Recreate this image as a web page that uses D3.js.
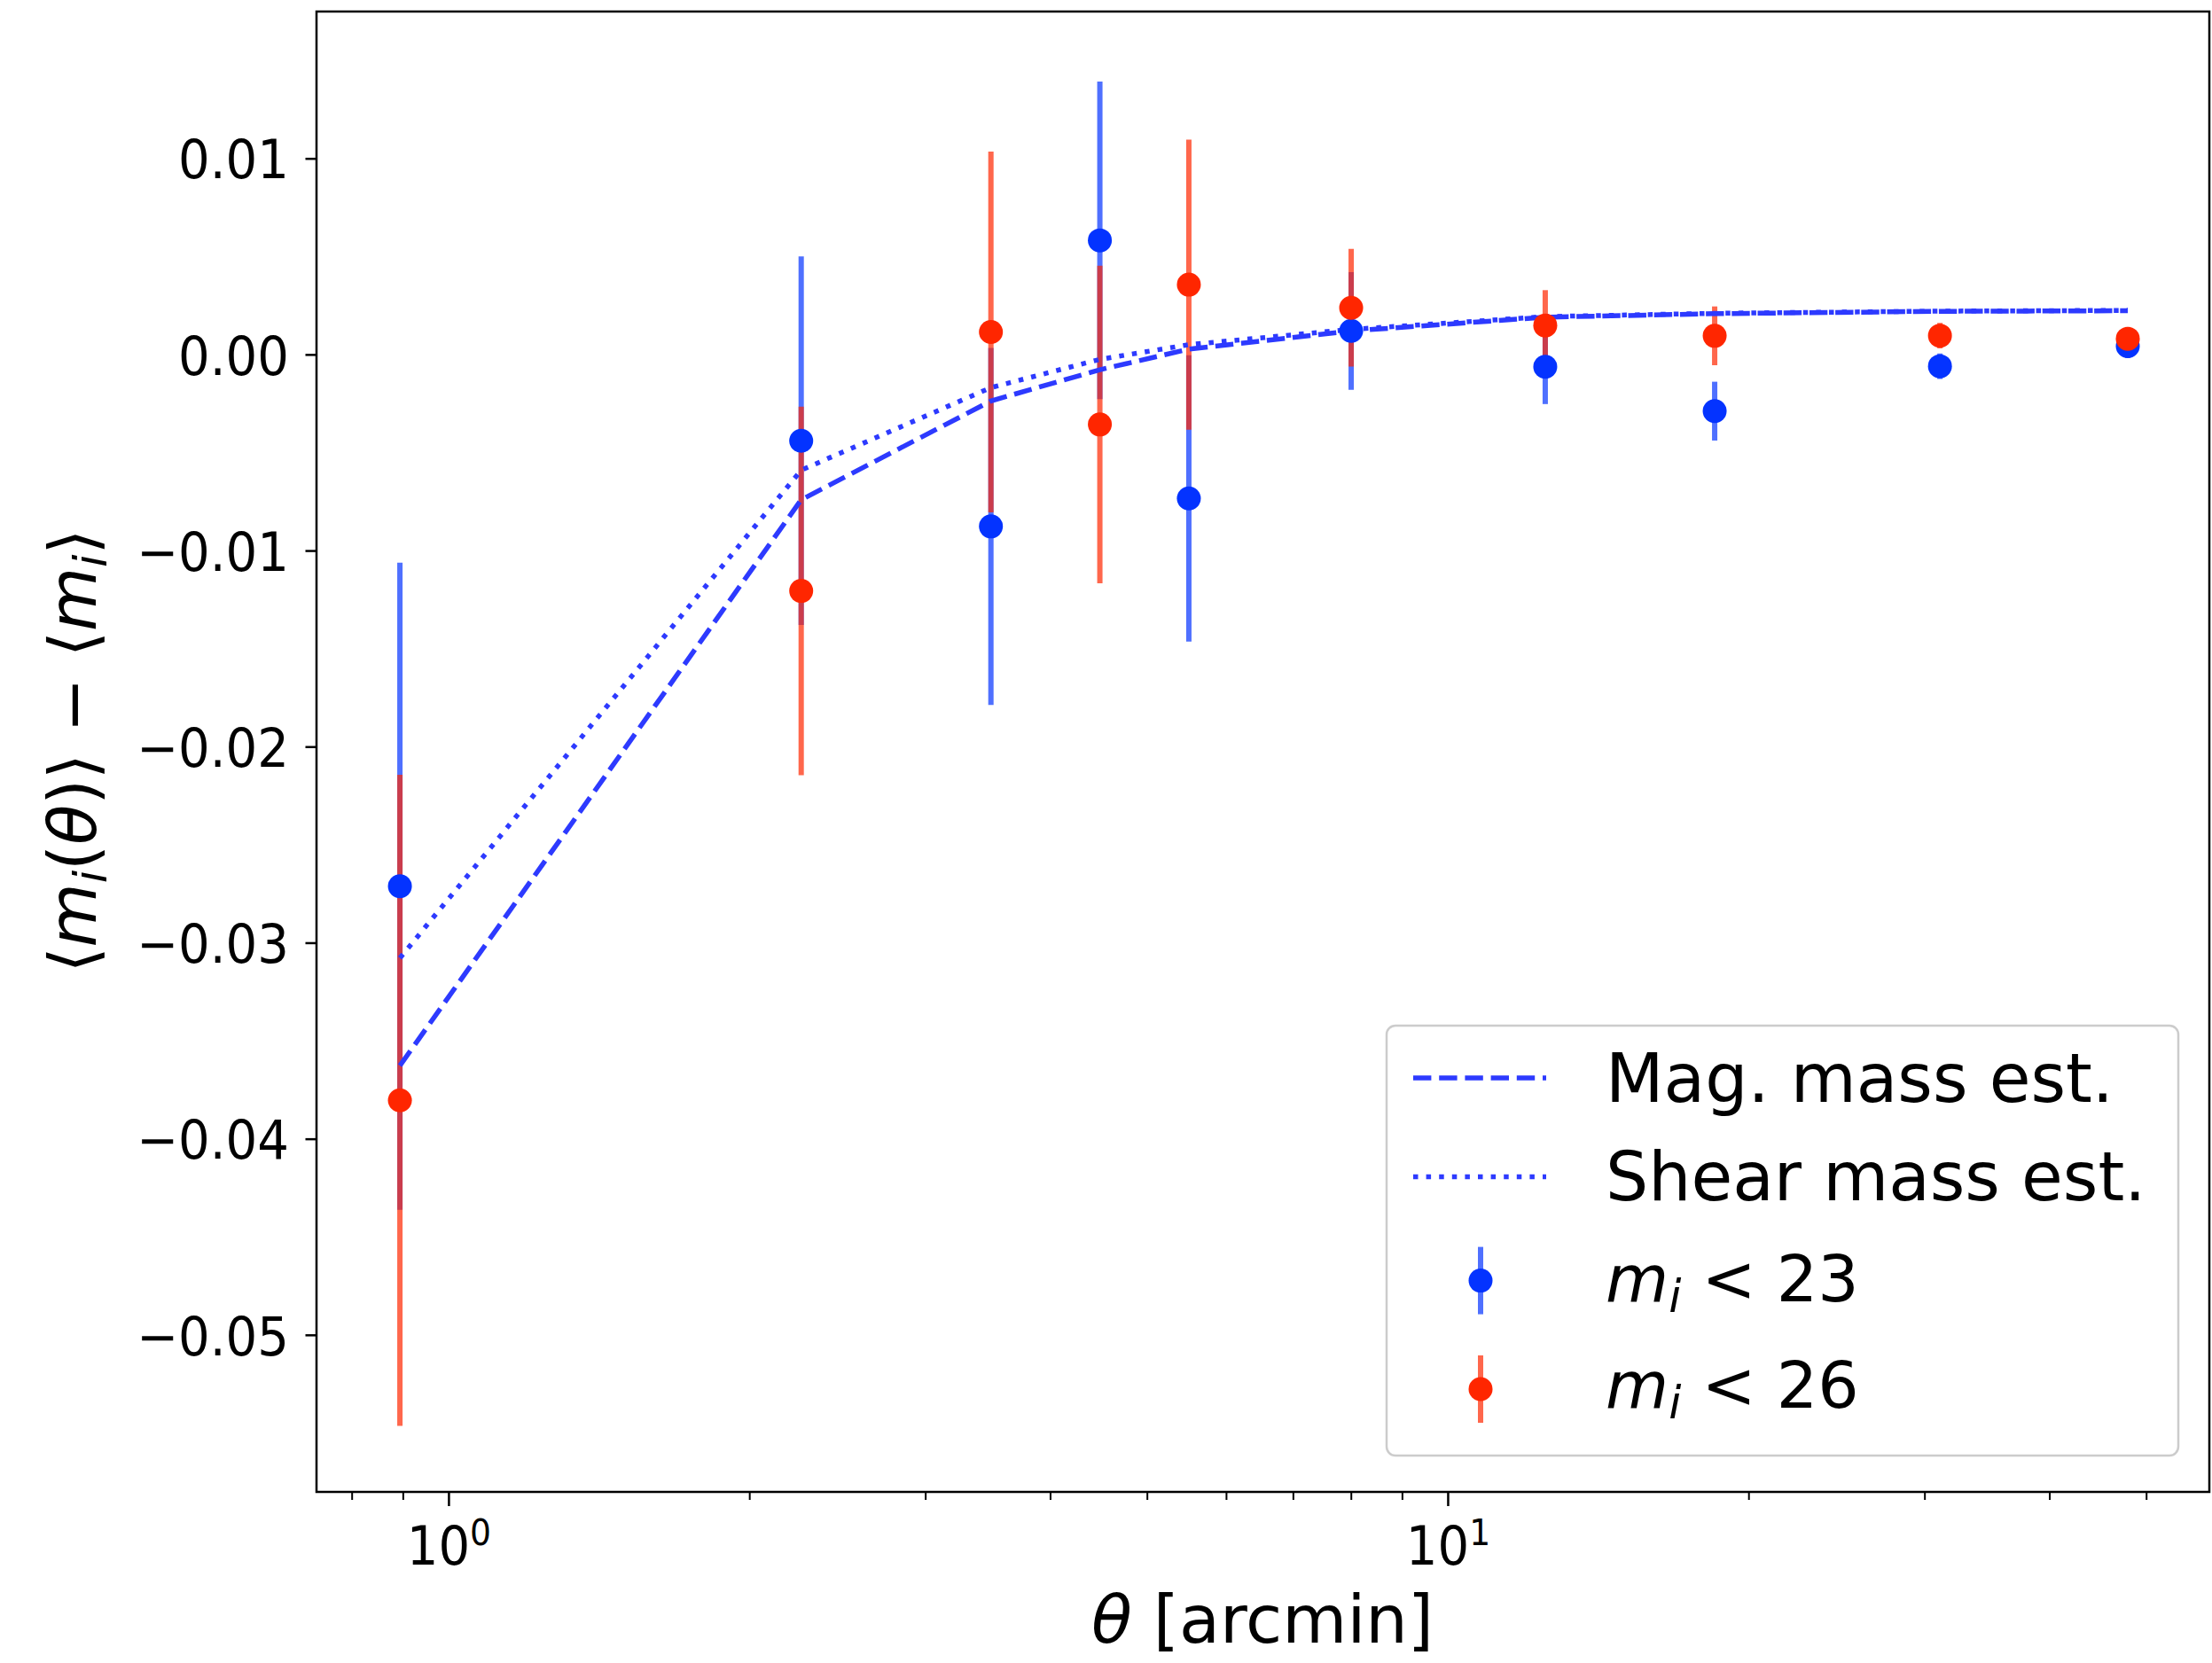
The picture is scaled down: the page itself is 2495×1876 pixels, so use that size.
<!DOCTYPE html>
<html><head><meta charset="utf-8">
<script src="https://cdn.jsdelivr.net/npm/d3@7"></script>
<style>
body{margin:0;background:#fff;}
svg{display:block;}
text{font-family:"DejaVu Sans",sans-serif;fill:#000;}
</style>
</head><body><div id="chart"></div>
<script>
// ---------- data ----------
const theta      = [0.894, 2.254, 3.49, 4.486, 5.507, 8.005, 12.52, 18.50, 31.09, 47.93];
const blueVals   = [-0.02712, -0.0044, -0.00877, 0.00582, -0.00734, 0.0012, -0.00063, -0.00289, -0.0006, 0.00042];
const blueErr    = [0.0165, 0.0094, 0.0091, 0.0081, 0.0073, 0.0030, 0.0019, 0.0015, 0.00065, 0.0006];
const redVals    = [-0.03804, -0.01206, 0.00115, -0.00357, 0.00356, 0.00238, 0.00148, 0.00095, 0.00096, 0.0008];
const redErr     = [0.0166, 0.0094, 0.0092, 0.0081, 0.0074, 0.0030, 0.0018, 0.0015, 0.00065, 0.0006];
const magEst     = [-0.03627, -0.00741, -0.00237, -0.00078, 0.00027, 0.0012, 0.0019, 0.00208, 0.0022, 0.00223];
const shearEst   = [-0.03078, -0.0059, -0.00169, -0.00025, 0.0005, 0.00128, 0.00193, 0.0021, 0.00221, 0.00225];
const yTicks      = [0.01, 0.00, -0.01, -0.02, -0.03, -0.04, -0.05];
const yTickLabels = ["0.01", "0.00", "\u22120.01", "\u22120.02", "\u22120.03", "\u22120.04", "\u22120.05"];
const xMajorTicks = [1, 10];
const xMajorExps  = ["0", "1"];
const xMinorTicks = [0.8, 0.9, 2, 3, 4, 5, 6, 7, 8, 9, 20, 30, 40, 50];
const lineNames   = ["Mag. mass est.", "Shear mass est."];
const pointNames  = ["23", "26"];

// ---------- layout ----------
const W = 2495, H = 1876;
const L = 357, R = 2492, T = 13, B = 1683;
const xDomain = [0.7377, 57.84];
const yDomain = [-0.05801, 0.01749];
const BLUE = "#0433ff", RED = "#ff2600", LINEC = "rgb(45,58,255)";
const TICKFS = 61, TSX = 0.92;

const svg = d3.select("#chart").append("svg").attr("width", W).attr("height", H);
const x = d3.scaleLog().domain(xDomain).range([L, R]);
const y = d3.scaleLinear().domain(yDomain).range([B, T]);

// ---------- axes ----------
const yAxis = d3.axisLeft(y).tickValues(yTicks).tickFormat((d, i) => yTickLabels[i])
  .tickSize(12.5).tickPadding(18.5);
const gy = svg.append("g").attr("transform", `translate(${L},0)`).call(yAxis);
gy.select(".domain").remove();
gy.selectAll(".tick line").attr("stroke", "#000").attr("stroke-width", 2.5);
gy.selectAll(".tick text").attr("font-size", TICKFS).attr("font-family", "DejaVu Sans")
  .attr("fill", "#000").attr("x", -31 / TSX).attr("dy", "0.364em")
  .attr("transform", `scale(${TSX},1)`);

const gxMinor = svg.append("g").attr("transform", `translate(0,${B})`)
  .call(d3.axisBottom(x).tickValues(xMinorTicks).tickFormat(() => "").tickSize(9));
gxMinor.select(".domain").remove();
gxMinor.selectAll(".tick line").attr("stroke", "#000").attr("stroke-width", 2);

const gx = svg.append("g").attr("transform", `translate(0,${B})`)
  .call(d3.axisBottom(x).tickValues(xMajorTicks).tickFormat(() => "").tickSize(16));
gx.select(".domain").remove();
gx.selectAll(".tick line").attr("stroke", "#000").attr("stroke-width", 2.5);
gx.selectAll(".tick text").remove();
gx.selectAll(".tick").each(function (d, i) {
  const t = d3.select(this).append("text").attr("text-anchor", "middle")
    .attr("y", 81.7).attr("transform", `scale(${TSX},1)`).attr("font-size", TICKFS);
  t.append("tspan").text("10");
  t.append("tspan").attr("font-size", 41).attr("dy", -22).text(xMajorExps[i]);
});

// ---------- error bars ----------
function bars(vals, errs, color) {
  svg.append("g").selectAll("line").data(vals).join("line")
    .attr("x1", (d, i) => x(theta[i])).attr("x2", (d, i) => x(theta[i]))
    .attr("y1", (d, i) => y(d - errs[i])).attr("y2", (d, i) => y(d + errs[i]))
    .attr("stroke", color).attr("stroke-width", 6).attr("stroke-opacity", 0.7);
}
bars(blueVals, blueErr, BLUE);
bars(redVals, redErr, RED);

// ---------- model curves ----------
const line = d3.line().x((d, i) => x(theta[i])).y(d => y(d));
svg.append("path").datum(magEst).attr("d", line).attr("fill", "none")
  .attr("stroke", LINEC).attr("stroke-width", 5.5).attr("stroke-dasharray", "20.4,8.8");
svg.append("path").datum(shearEst).attr("d", line).attr("fill", "none")
  .attr("stroke", LINEC).attr("stroke-width", 5.5).attr("stroke-dasharray", "5.5,9.1");

// ---------- markers ----------
function dots(vals, color) {
  svg.append("g").selectAll("circle").data(vals).join("circle")
    .attr("cx", (d, i) => x(theta[i])).attr("cy", d => y(d)).attr("r", 13.5).attr("fill", color);
}
dots(blueVals, BLUE);
dots(redVals, RED);

// ---------- spines ----------
svg.append("rect").attr("x", L).attr("y", T).attr("width", R - L).attr("height", B - T)
  .attr("fill", "none").attr("stroke", "#000").attr("stroke-width", 2.5);

// ---------- axis labels ----------
const xl = svg.append("text").attr("text-anchor", "middle").attr("font-size", 75)
  .attr("transform", `translate(1424,1853)`);
xl.append("tspan").attr("font-style", "italic").text("\u03b8");
xl.append("tspan").text(" [arcmin]");

const yl = svg.append("text").attr("text-anchor", "middle").attr("font-size", 74)
  .attr("transform", `translate(108,847) rotate(-90)`);
yl.append("tspan").text("\u27e8");
yl.append("tspan").attr("font-style", "italic").text("m");
yl.append("tspan").attr("font-style", "italic").attr("font-size", 52).attr("dy", 12).text("i");
yl.append("tspan").attr("dy", -12).text("(");
yl.append("tspan").attr("font-style", "italic").text("\u03b8");
yl.append("tspan").text(")\u27e9 \u2212 \u27e8");
yl.append("tspan").attr("font-style", "italic").text("m");
yl.append("tspan").attr("font-style", "italic").attr("font-size", 52).attr("dy", 12).text("i");
yl.append("tspan").attr("dy", -12).text("\u27e9");

// ---------- legend ----------
const lg = svg.append("g");
lg.append("rect").attr("x", 1564).attr("y", 1157).attr("width", 893).attr("height", 485)
  .attr("rx", 10).attr("fill", "#fff").attr("fill-opacity", 0.8)
  .attr("stroke", "#cccccc").attr("stroke-width", 2.5);
const LFS = 76, MFS = 73, textX = 1811;
const lineRows = [1216, 1327.5], lineBase = [1243, 1353.6];
const dashes = ["20.4,8.8", "5.5,9.1"];
lineNames.forEach((nm, i) => {
  lg.append("line").attr("x1", 1594).attr("x2", 1744).attr("y1", lineRows[i]).attr("y2", lineRows[i])
    .attr("stroke", LINEC).attr("stroke-width", 5.5).attr("stroke-dasharray", dashes[i]);
  lg.append("text").attr("font-size", LFS).attr("x", textX).attr("y", lineBase[i]).text(nm);
});
const ptRows = [1444.6, 1567], ptBase = [1468, 1587.5], ptCols = [BLUE, RED];
pointNames.forEach((nm, i) => {
  lg.append("line").attr("x1", 1670).attr("x2", 1670).attr("y1", ptRows[i] - 38).attr("y2", ptRows[i] + 38)
    .attr("stroke", ptCols[i]).attr("stroke-width", 6).attr("stroke-opacity", 0.7);
  lg.append("circle").attr("cx", 1670).attr("cy", ptRows[i]).attr("r", 13.5).attr("fill", ptCols[i]);
  const t = lg.append("text").attr("font-size", MFS).attr("x", textX).attr("y", ptBase[i]);
  t.append("tspan").attr("font-style", "italic").text("m");
  t.append("tspan").attr("font-style", "italic").attr("font-size", 51).attr("dy", 12).text("i");
  t.append("tspan").attr("dy", -12).text(" < " + nm);
});
</script>
</body></html>
